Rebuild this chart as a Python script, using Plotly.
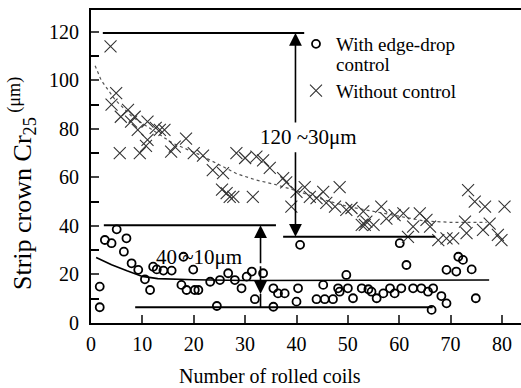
import plotly.graph_objects as go

# ---- data: With edge-drop control (circles) ----
with_x = [1.7, 1.7, 2.7, 4.0, 5.0, 6.9, 6.4, 7.9, 9.2, 10.5, 11.5, 12.1, 12.8, 14.1, 15.7,
          17.6, 18.6, 20.2, 20.9, 19.9, 18.0, 23.2, 24.5, 25.1, 26.7, 28.0, 29.3, 30.3, 31.3,
          33.5, 31.9, 35.5, 36.4, 37.7, 35.5, 40.3, 40.0, 40.7, 45.2, 43.9, 45.5, 47.1, 48.1,
          48.4, 49.7, 50.0, 51.0, 52.7, 54.0, 54.6, 55.6, 56.9, 58.2, 59.1, 60.4, 60.1, 61.4,
          62.7, 64.3, 65.6, 66.6, 68.2, 69.2, 66.3, 69.2, 71.1, 71.5, 72.4, 74.1, 74.9]
with_y = [15.0, 6.5, 34.2, 32.9, 38.6, 34.9, 29.4, 24.6, 21.9, 18.0, 13.6, 23.2, 22.1, 21.6, 21.6,
          15.7, 13.6, 13.6, 13.6, 22.0, 27.3, 17.0, 7.0, 17.7, 20.5, 17.7, 14.3, 19.1, 21.2,
          20.5, 9.8, 14.3, 12.2, 12.2, 6.7, 14.3, 8.8, 32.2, 15.7, 9.8, 9.8, 9.8, 14.3,
          12.9, 19.8, 14.3, 10.2, 14.3, 13.9, 12.9, 10.2, 12.2, 14.3, 12.2, 14.3, 32.9, 23.9,
          14.3, 14.3, 12.9, 14.3, 11.1, 8.1, 5.4, 21.9, 21.2, 27.3, 26.0, 22.1, 10.2]

# ---- data: Without control (crosses) ----
without_x = [3.8, 4.9, 4.0, 7.2, 8.5, 7.8, 5.8, 11.0, 12.6, 13.4, 14.3, 9.1, 11.0, 5.6, 9.5,
             10.7, 16.3, 18.5, 20.0, 21.8, 15.6, 23.7, 25.5, 27.0, 31.5, 28.3, 30.0, 32.2, 33.5,
             34.8, 25.7, 26.4, 27.7, 37.4, 38.0, 40.0, 41.6, 39.0, 42.6, 43.9, 45.2, 48.4, 45.8,
             47.5, 49.7, 50.7, 52.7, 53.6, 73.4, 74.7, 76.7, 80.5, 56.5, 59.1, 60.8, 64.0, 65.3,
             53.3, 55.0, 62.7, 66.0, 67.6, 69.2, 70.5, 72.8, 73.1, 76.3, 77.6, 79.2, 79.9, 53.0,
             61.7, 57.5]
without_y = [114.0, 94.7, 90.0, 87.8, 85.0, 83.0, 85.0, 83.0, 80.4, 79.6, 79.6, 79.6, 75.5, 70.0, 70.0,
             73.0, 72.7, 76.0, 70.0, 69.0, 70.6, 63.0, 55.0, 52.0, 52.0, 70.0, 68.0, 68.6, 67.0,
             63.9, 61.8, 53.5, 52.0, 59.7, 58.0, 54.0, 56.0, 48.0, 52.0, 51.5, 54.0, 56.0, 49.5,
             48.0, 46.6, 47.4, 40.4, 41.8, 54.8, 50.0, 48.0, 48.0, 48.0, 44.5, 45.2, 45.2, 42.5,
             40.4, 40.4, 39.7, 39.7, 34.2, 34.9, 34.9, 41.8, 37.0, 38.4, 41.0, 36.3, 34.2, 46.0,
             35.5, 43.0]

# ---- fitted trend lines ----
fit_with_x = [1.0, 4.0, 7.0, 10.0, 13.0, 20.0, 30.0, 40.0, 60.0, 77.5]
fit_with_y = [27.0, 24.0, 21.5, 19.2, 18.3, 17.8, 17.5, 17.6, 17.7, 17.7]
fit_without_x = [0.8, 2.0, 4.7, 8.0, 12.0, 16.0, 21.0, 25.0, 28.4, 32.0, 36.0, 40.0, 45.0,
                 50.0, 55.0, 60.0, 65.0, 70.0, 77.0]
fit_without_y = [106.0, 100.0, 92.0, 85.0, 79.5, 74.0, 69.5, 65.0, 61.5, 59.0, 57.0, 54.5, 51.0,
                 48.0, 46.0, 44.0, 42.0, 41.5, 41.5]

# ---- range brackets: (y level, x start, x end) ----
bracket_levels = [119.5, 35.5, 40.3, 6.5]
bracket_x0 = [2.3, 37.4, 2.5, 8.6]
bracket_x1 = [41.5, 67.0, 36.0, 66.5]

# ---- range arrows ----
arrow_labels = ["120 ~30μm", "40 ~10μm"]
arrow_x = [39.8, 33.0]
arrow_top = [119.5, 40.3]
arrow_bottom = [35.5, 12.0]
arrow_break_hi = [82.0, 24.0]
arrow_break_lo = [71.0, 24.0]
label_x = [42.3, 21.0]
label_y = [76.7, 27.2]
foot_y = 6.5

legend_names = ["With edge-drop", "Without control"]
legend_extra = "control"

x_ticks = [0, 10, 20, 30, 40, 50, 60, 70, 80]
y_ticks = [0, 20, 40, 60, 80, 100, 120]

FONT = "Liberation Serif, Times New Roman, serif"

fig = go.Figure()

fig.add_trace(go.Scatter(x=fit_without_x, y=fit_without_y, mode="lines",
                         line=dict(color="#555555", width=1.2, dash="dot"),
                         showlegend=False, hoverinfo="skip"))
fig.add_trace(go.Scatter(x=fit_with_x, y=fit_with_y, mode="lines",
                         line=dict(color="black", width=1.6),
                         showlegend=False, hoverinfo="skip"))

fig.add_trace(go.Scatter(x=with_x, y=with_y, mode="markers",
                         name=legend_names[0], legendgroup="a",
                         marker=dict(symbol="circle-open", size=8, color="black",
                                     line=dict(width=1.8, color="black"))))
fig.add_trace(go.Scatter(x=without_x, y=without_y, mode="markers",
                         name=legend_names[1], legendgroup="b",
                         marker=dict(symbol="x-thin-open", size=12, color="#333333",
                                     line=dict(width=1.1, color="#333333"))))

# bracket lines
for lvl, a, b in zip(bracket_levels, bracket_x0, bracket_x1):
    fig.add_shape(type="line", x0=a, x1=b, y0=lvl, y1=lvl, xref="x", yref="y",
                  line=dict(color="black", width=2))

# arrows
for i in range(2):
    fig.add_annotation(x=arrow_x[i], y=arrow_top[i], ax=arrow_x[i], ay=arrow_break_hi[i],
                       xref="x", yref="y", axref="x", ayref="y", text="",
                       showarrow=True, arrowhead=2, arrowsize=1.6, arrowwidth=1.6,
                       arrowcolor="black")
    fig.add_annotation(x=arrow_x[i], y=arrow_bottom[i], ax=arrow_x[i], ay=arrow_break_lo[i],
                       xref="x", yref="y", axref="x", ayref="y", text="",
                       showarrow=True, arrowhead=2, arrowsize=1.6, arrowwidth=1.6,
                       arrowcolor="black")
    fig.add_annotation(x=label_x[i], y=label_y[i], xref="x", yref="y",
                       text=arrow_labels[i].replace(" ", "&nbsp;"), showarrow=False,
                       font=dict(family=FONT, size=21, color="black"))
# stem from lower arrow to the foot line
fig.add_shape(type="line", x0=arrow_x[1], x1=arrow_x[1], y0=foot_y, y1=arrow_bottom[1],
              xref="x", yref="y", line=dict(color="black", width=1.6))

# second line of first legend entry
fig.add_annotation(x=(334 - 91) / 430, y=(323 - 64) / 313, xref="paper", yref="paper",
                   xanchor="left", yanchor="middle", text=legend_extra, showarrow=False,
                   font=dict(family=FONT, size=19, color="black"))

# axis titles
fig.add_annotation(x=(22 - 91) / 430, y=(323 - 184) / 313, xref="paper", yref="paper",
                   xanchor="center", yanchor="middle", textangle=-90,
                   text="Strip crown Cr<sub>25</sub><sup> (μm)</sup>", showarrow=False,
                   font=dict(family=FONT, size=26, color="black"))
fig.add_annotation(x=(270 - 91) / 430, y=(323 - 376) / 313, xref="paper", yref="paper",
                   xanchor="center", yanchor="middle",
                   text="Number of rolled coils", showarrow=False,
                   font=dict(family=FONT, size=20, color="black"))

fig.update_xaxes(range=[0, 83.7], tickvals=x_ticks, ticks="inside", ticklen=8, tickwidth=1.5,
                 showline=True, linewidth=2, linecolor="black", mirror=True,
                 showgrid=False, zeroline=False, ticklabelstandoff=2,
                 tickfont=dict(family=FONT, size=20, color="black"))
fig.update_yaxes(range=[0, 129], tickvals=y_ticks, ticks="inside", ticklen=8, tickwidth=1.5,
                 minor=dict(dtick=10, ticks="inside", ticklen=8, tickwidth=1.5, tickcolor="black"),
                 showline=True, linewidth=2, linecolor="black",
                 showgrid=False, zeroline=False, ticklabelstandoff=6,
                 tickfont=dict(family=FONT, size=20, color="black"))

fig.update_layout(width=521, height=388, margin=dict(l=91, r=0, t=10, b=65),
                  paper_bgcolor="white", plot_bgcolor="white",
                  legend=dict(x=(296 - 91) / 430, y=(323 - 25) / 313, xanchor="left", yanchor="top",
                              bgcolor="rgba(0,0,0,0)", valign="middle", tracegroupgap=19,
                              font=dict(family=FONT, size=19, color="black")))

fig.write_html("out.html", config={"displayModeBar": False},
               post_script="document.body.style.margin='0px';")
